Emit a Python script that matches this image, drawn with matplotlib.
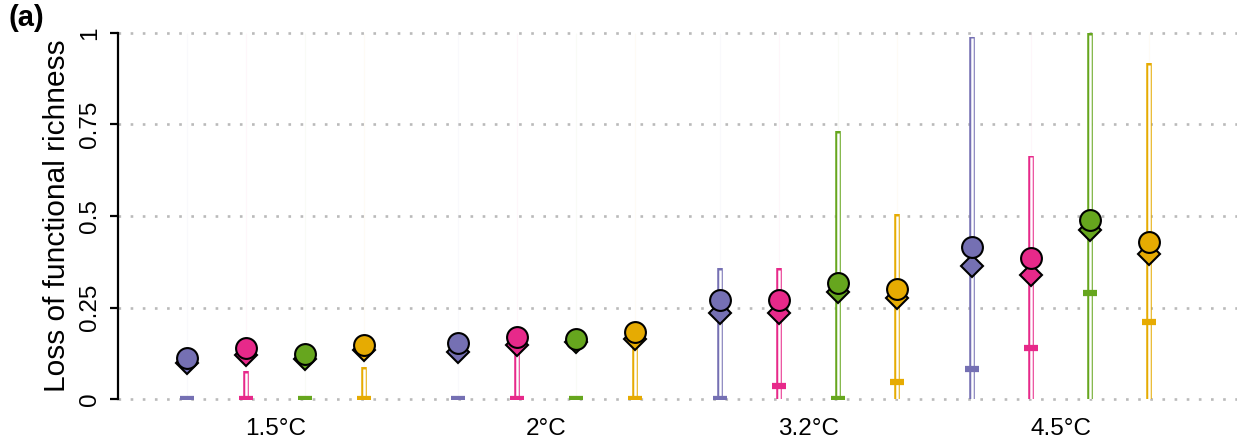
import numpy as np
import matplotlib.pyplot as plt

plt.rcParams['font.family'] = ['Liberation Sans', 'DejaVu Sans']

# scenarios and the four series (colours in dodge order)
scenarios = ['1.5°C', '2°C', '3.2°C', '4.5°C']
colors = ['#7570B3', '#E7298A', '#66A61E', '#E6AB02']

# circle (mean) per series, per scenario
means = [
    [0.112, 0.152, 0.270, 0.416],
    [0.139, 0.169, 0.270, 0.386],
    [0.123, 0.164, 0.316, 0.489],
    [0.148, 0.184, 0.300, 0.428],
]
# diamond (median)
medians = [
    [0.098, 0.128, 0.235, 0.364],
    [0.120, 0.148, 0.235, 0.338],
    [0.110, 0.155, 0.293, 0.462],
    [0.135, 0.164, 0.275, 0.395],
]
# upper end of hollow bar (0 = no bar)
bar_hi = [
    [0.0, 0.0, 0.357, 0.990],
    [0.077, 0.150, 0.357, 0.665],
    [0.0, 0.0, 0.732, 1.000],
    [0.088, 0.165, 0.505, 0.917],
]
# small filled tick
low_tick = [
    [0.0, 0.0, 0.0, 0.082],
    [0.0, 0.0, 0.036, 0.138],
    [0.0, 0.0, 0.0, 0.290],
    [0.0, 0.0, 0.047, 0.211],
]

fig = plt.figure(figsize=(12.37, 4.44), dpi=100)
ax = fig.add_axes([118 / 1237, 1 - 399 / 444, 1 - 118 / 1237, 366 / 444])

# dotted grid
for g in [0, 0.25, 0.5, 0.75, 1]:
    ax.axhline(g, color='#bababa', lw=1.9, ls=(0, (1, 3.6)), zorder=0, clip_on=False)

# group centres are not quite evenly spread in the original
x0 = np.array([0, 1.035, 2.036, 3.0])
step = 0.2255
for i, c in enumerate(colors):
    xs = x0 + (i - 1.5) * step
    # faint full-range line
    ax.vlines(xs, 0, 1, color=c, lw=0.8, alpha=0.04, zorder=1)
    for j, x in enumerate(xs):
        hi = bar_hi[i][j]
        if hi > 0:
            ax.vlines(x, 0, hi, color=c, lw=4.0, zorder=2)
            ax.vlines(x, 0.0, hi - 0.005, color='white', lw=1.8, zorder=3)
    ax.plot(xs, low_tick[i], ls='none', marker='_', ms=9.5, mew=4.5, color=c,
            zorder=4)
    ax.plot(xs, medians[i], ls='none', marker='D', ms=11, mfc=c, mec='black',
            mew=1.5, zorder=5, clip_on=False)
    ax.plot(xs, means[i], ls='none', marker='o', ms=15, mfc=c, mec='black',
            mew=1.5, zorder=6, clip_on=False)

unit = 1119 / 4.276
ax.set_xlim(-157.5 / unit, -157.5 / unit + 1119 / unit)
ax.set_ylim(0, 1)

ax.set_yticks([0, 0.25, 0.5, 0.75, 1])
ax.set_yticklabels(['0', '0.25', '0.5', '0.75', '1'], rotation=90, va='center')
ax.set_xticks(x0)
ax.set_xticklabels(scenarios)
ax.tick_params(axis='y', length=6, width=1.6, pad=6, labelsize=17.5)
ax.tick_params(axis='x', length=0, pad=14, labelsize=17.5)

for s in ['top', 'right', 'bottom']:
    ax.spines[s].set_visible(False)
ax.spines['left'].set_linewidth(1.6)

ax.set_ylabel('Loss of functional richness', fontsize=21.5, labelpad=6)
fig.text(8 / 1237, 1 - 4 / 444, '(a)', fontsize=21, fontweight='bold', va='top', ha='left')

fig.savefig('out.png', dpi=100)
